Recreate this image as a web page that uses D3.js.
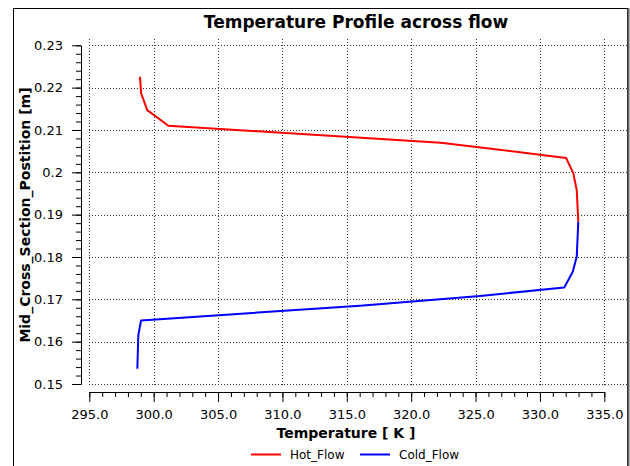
<!DOCTYPE html>
<html>
<head>
<meta charset="utf-8">
<script src="https://cdn.jsdelivr.net/npm/d3@7"></script>
<style>
  html, body { margin: 0; padding: 0; background: #fff; }
  svg { display: block; font-family: "DejaVu Sans", Verdana, sans-serif; }
</style>
</head>
<body>
<svg id="chart" width="630" height="466"></svg>
<script>
// Temperature profile data (temperature in K vs. position in m)
const hotTemp  = [298.94, 299.02, 299.50, 301.14, 322.30, 332.03, 332.59, 332.86, 332.98];
const hotPos   = [0.2226, 0.2187, 0.2147, 0.2110, 0.2070, 0.2034, 0.1998, 0.1958, 0.1883];
const coldTemp = [332.98, 332.86, 332.55, 331.89, 325.35, 316.03, 299.02, 298.81, 298.73];
const coldPos  = [0.1883, 0.1801, 0.1765, 0.1728, 0.1708, 0.1685, 0.1650, 0.1616, 0.1536];

const xTicks = [295, 300, 305, 310, 315, 320, 325, 330, 335];
const yTicks = [0.15, 0.16, 0.17, 0.18, 0.19, 0.20, 0.21, 0.22, 0.23];
const xMinor = d3.range(295, 335.001, 1);
const yMinor = d3.range(0, 41).map(i => 0.15 + i * 0.002);

const seriesNames = ["Hot_Flow", "Cold_Flow"];
const seriesColors = ["#ff0000", "#0000ff"];

const svg = d3.select("#chart");

// Outer frame
svg.append("rect")
  .attr("x", 13.5).attr("y", 8.5)
  .attr("width", 614).attr("height", 480)
  .attr("fill", "#fff").attr("stroke", "#000").attr("stroke-width", 1);
svg.append("line")
  .attr("x1", 628.5).attr("x2", 628.5).attr("y1", 8).attr("y2", 466)
  .attr("stroke", "#666").attr("stroke-width", 2);

const x = d3.scaleLinear().domain([295, 335]).range([89.3, 604.3]);
const y = d3.scaleLinear().domain([0.15, 0.23]).range([384, 45.3]);

const plotTop = 39, plotBottom = 386, plotLeft = 89, plotRight = 627;
const px = v => Math.round(v) + 0.5;

// Dotted grid
const grid = svg.append("g").attr("stroke", "#333").attr("stroke-width", 1)
  .attr("stroke-dasharray", "1,2");
grid.selectAll("line.v").data(xTicks).join("line").attr("class", "v")
  .attr("x1", d => px(x(d))).attr("x2", d => px(x(d)))
  .attr("y1", plotTop).attr("y2", plotBottom);
grid.selectAll("line.h").data(yTicks).join("line").attr("class", "h")
  .attr("y1", d => px(y(d))).attr("y2", d => px(y(d)))
  .attr("x1", plotLeft).attr("x2", plotRight);

// Y axis (left, detached from plot area)
const yFmt = d => String(+d.toFixed(2));
const yAxisG = svg.append("g").attr("transform", "translate(81,0)");
yAxisG.call(d3.axisLeft(y).tickValues(yTicks).tickFormat(yFmt)
  .tickSize(9).tickSizeOuter(0).tickPadding(9));
yAxisG.append("g").call(d3.axisLeft(y).tickValues(yMinor).tickFormat("")
  .tickSize(5).tickSizeOuter(0));

// X axis (bottom, below plot area)
const xAxisG = svg.append("g").attr("transform", "translate(0,392)");
xAxisG.call(d3.axisBottom(x).tickValues(xTicks).tickFormat(d => d.toFixed(1))
  .tickSize(10).tickSizeOuter(0).tickPadding(8));
xAxisG.append("g").call(d3.axisBottom(x).tickValues(xMinor).tickFormat("")
  .tickSize(5).tickSizeOuter(0));

svg.selectAll(".tick text").attr("font-size", 13).attr("fill", "#000")
  .attr("font-family", "DejaVu Sans");
svg.selectAll(".domain, .tick line").attr("stroke", "#000");

// Profiles
const line = d3.line().x(d => x(d[0])).y(d => y(d[1]));
const series = [
  d3.zip(hotTemp, hotPos),
  d3.zip(coldTemp, coldPos)
];
svg.append("g").selectAll("path").data(series).join("path")
  .attr("d", line)
  .attr("fill", "none")
  .attr("stroke", (d, i) => seriesColors[i])
  .attr("stroke-width", 2)
  .attr("stroke-linejoin", "round");

// Title and axis titles
svg.append("text").attr("x", 356).attr("y", 28)
  .attr("text-anchor", "middle").attr("font-size", 17).attr("font-weight", "bold")
  .text("Temperature Profile across flow");

svg.append("text").attr("x", 346).attr("y", 438)
  .attr("text-anchor", "middle").attr("font-size", 14).attr("font-weight", "bold")
  .text("Temperature [ K ]");

svg.append("text")
  .attr("transform", "translate(30,215) rotate(-90)")
  .attr("text-anchor", "middle").attr("font-size", 14).attr("font-weight", "bold")
  .text("Mid_Cross_Section_Postition [m]");

// Legend
const legendX = [251, 360];
const lg = svg.append("g").selectAll("g").data(seriesNames).join("g")
  .attr("transform", (d, i) => `translate(${legendX[i]},454.5)`);
lg.append("line").attr("x1", 0).attr("x2", 30).attr("y1", 0).attr("y2", 0)
  .attr("stroke", (d, i) => seriesColors[i]).attr("stroke-width", 2);
lg.append("text").attr("x", 39).attr("y", 0).attr("dy", "0.36em")
  .attr("font-size", 12).text(d => d);
</script>
</body>
</html>
